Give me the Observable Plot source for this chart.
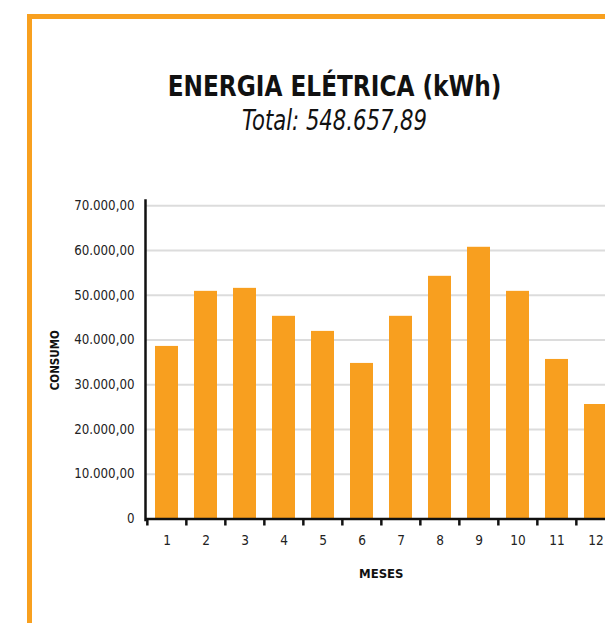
<!DOCTYPE html>
<html><head><meta charset="utf-8">
<script src="https://cdn.jsdelivr.net/npm/d3@7"></script>
<script src="https://cdn.jsdelivr.net/npm/@observablehq/plot@0.6"></script>
<style>
html,body{margin:0;padding:0;background:#fff;overflow:hidden;width:605px;height:623px;}
#page{position:relative;width:605px;height:623px;overflow:hidden;}
#box{position:absolute;left:27px;top:13.5px;width:700px;height:700px;border-top:5.5px solid #F8A01F;border-left:5.5px solid #F8A01F;box-sizing:border-box;}
.t{position:absolute;left:0;width:669px;text-align:center;font-family:"DejaVu Sans Condensed","DejaVu Sans",sans-serif;color:#111;white-space:nowrap;transform-origin:334.5px 50%;}
#title{top:71.5px;font-size:29px;line-height:29px;font-weight:bold;transform:scaleX(0.89);}
#subtitle{top:107.3px;font-size:28px;line-height:28px;font-style:italic;transform:scaleX(0.84);}
#chart{position:absolute;left:0;top:0;}
</style></head><body>
<div id="page"><div id="box"></div>
<div class="t" id="title"></div>
<div class="t" id="subtitle"></div>
<div id="chart"></div></div>
<script>
const titleText = "ENERGIA ELÉTRICA (kWh)";
const subtitleText = "Total: 548.657,89";
const xLabel = "MESES";
const yLabel = "CONSUMO";
const months = [1, 2, 3, 4, 5, 6, 7, 8, 9, 10, 11, 12];
const consumo = [38570, 50880, 51550, 45300, 41930, 34770, 45300, 54240, 60730, 50880, 35660, 25590];
const yTicks = [0, 10000, 20000, 30000, 40000, 50000, 60000, 70000];

document.getElementById("title").textContent = titleText;
document.getElementById("subtitle").textContent = subtitleText;

const data = months.map((m, i) => ({mes: m, consumo: consumo[i]}));
const W = 640, H = 600, mL = 145, mR = 23.4, mT = 200, mB = 80.5;
const step = (W - mL - mR) / months.length;
const br = d3.formatLocale({decimal: ",", thousands: ".", grouping: [3], currency: ["R$ ", ""]});
const f2 = br.format(",.2f");
const fmt = v => v === 0 ? "0" : f2(v);
const font = '"DejaVu Sans Condensed","DejaVu Sans",sans-serif';
const orange = "#F89F1F";
const ink = "#111";

const chart = Plot.plot({
  width: W, height: H,
  marginLeft: mL, marginRight: mR, marginTop: mT, marginBottom: mB,
  style: {fontFamily: font, fontSize: "13.2px", color: "#222", background: "transparent", overflow: "visible", maxWidth: "none"},
  x: {type: "band", domain: months, paddingInner: 0.415, paddingOuter: 0.2075, align: 0.5},
  y: {domain: [0, 70000], range: [518.5, 205.3]},
  marks: [
    Plot.ruleY(yTicks.filter(v => v > 0), {stroke: "#dcdcdc", strokeWidth: 2}),
    Plot.barY(data, {x: "mes", y: "consumo", fill: orange}),
    Plot.ruleY([0], {stroke: ink, strokeWidth: 2.5}),
    Plot.frame({anchor: "left", stroke: ink, strokeWidth: 2.5}),
    Plot.ruleX(months, {x: d => d, dx: -step / 2, y1: 0, y2: 0, insetBottom: -7, stroke: ink, strokeWidth: 2.5}),
    Plot.axisY({ticks: yTicks, tickSize: 0, tickPadding: 11, tickFormat: fmt, label: null}),
    Plot.axisX({tickSize: 0, tickPadding: 15, label: null, fontSize: 13.5}),
    Plot.text([xLabel], {text: d => d, frameAnchor: "bottom", lineAnchor: "middle", dy: 53.5, fontWeight: "bold", fontSize: 13, fill: ink}),
    Plot.text([yLabel], {text: d => d, frameAnchor: "left", textAnchor: "middle", lineAnchor: "middle", rotate: -90, dx: -90.5, fontWeight: "bold", fontSize: 11.5, fill: ink})
  ]
});
document.getElementById("chart").appendChild(chart);
</script>
</body></html>
